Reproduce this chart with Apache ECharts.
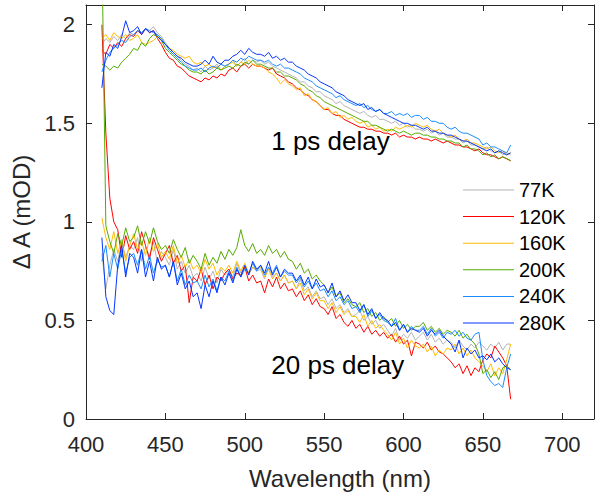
<!DOCTYPE html>
<html>
<head>
<meta charset="utf-8">
<script src="https://cdn.jsdelivr.net/npm/echarts@6/dist/echarts.min.js"></script>
<style>
html,body{margin:0;padding:0;background:#fff;overflow:hidden;}
#chart{width:596px;height:492px;}
</style>
</head>
<body>
<div id="chart"></div>
<script>
// Wavelength grid (nm)
const wl = [
410,412.5,415,417.5,420,422.5,425,427.5,
430,432.5,435,437.5,440,442.5,445,447.5,
450,452.5,455,457.5,460,462.5,465,467.5,
470,472.5,475,477.5,480,482.5,485,487.5,
490,492.5,495,497.5,500,502.5,505,507.5,
510,512.5,515,517.5,520,522.5,525,527.5,
530,532.5,535,537.5,540,542.5,545,547.5,
550,552.5,555,557.5,560,562.5,565,567.5,
570,572.5,575,577.5,580,582.5,585,587.5,
590,592.5,595,597.5,600,602.5,605,607.5,
610,612.5,615,617.5,620,622.5,625,627.5,
630,632.5,635,637.5,640,642.5,645,647.5,
650,652.5,655,657.5,660,662.5,665,667.5
];

const temperatures = ['77K','120K','160K','200K','240K','280K'];
const xRange = [400, 720];
const yRange = [0, 2.1];
const xTickLabels = [400,450,500,550,600,650,700];
const yTickLabels = [0,0.5,1,1.5,2];

// ---- 1 ps delay spectra ----
const ps1_77K = [
1.90,1.93,1.91,1.94,1.92,1.95,1.93,1.96,
1.95,1.97,1.96,1.98,1.97,1.99,1.96,1.94,
1.91,1.88,1.86,1.84,1.82,1.80,1.79,1.77,
1.78,1.76,1.79,1.77,1.78,1.80,1.77,1.79,
1.80,1.82,1.79,1.81,1.83,1.80,1.82,1.81,
1.82,1.80,1.81,1.79,1.78,1.77,1.76,1.75,
1.74,1.73,1.71,1.71,1.69,1.68,1.66,1.66,
1.64,1.63,1.62,1.60,1.61,1.59,1.58,1.57,
1.56,1.55,1.56,1.54,1.53,1.54,1.52,1.52,
1.51,1.50,1.51,1.49,1.50,1.48,1.49,1.47,
1.47,1.46,1.47,1.45,1.46,1.44,1.45,1.43,
1.43,1.42,1.42,1.40,1.41,1.39,1.39,1.38,
1.37,1.38,1.36,1.35,1.36,1.34,1.35,1.34
];
const ps1_120K = [
1.87,1.85,1.90,1.88,1.91,1.89,1.93,1.95,
1.94,1.97,1.95,1.98,1.96,1.97,1.93,1.90,
1.86,1.83,1.82,1.79,1.78,1.76,1.74,1.73,
1.72,1.71,1.73,1.72,1.74,1.73,1.75,1.74,
1.77,1.78,1.76,1.79,1.80,1.78,1.80,1.79,
1.79,1.78,1.77,1.78,1.75,1.74,1.73,1.71,
1.70,1.68,1.67,1.65,1.64,1.62,1.61,1.59,
1.57,1.57,1.55,1.54,1.54,1.52,1.51,1.50,
1.49,1.48,1.48,1.47,1.47,1.46,1.46,1.45,
1.45,1.44,1.45,1.43,1.44,1.43,1.43,1.42,
1.43,1.42,1.42,1.41,1.42,1.41,1.40,1.41,
1.40,1.39,1.39,1.38,1.38,1.37,1.36,1.37,
1.35,1.34,1.34,1.33,1.32,1.33,1.32,1.31
];
const ps1_160K = [
1.93,1.95,1.92,1.96,1.94,1.93,1.95,1.92,
1.93,1.95,1.91,1.90,1.91,1.92,1.94,1.93,
1.90,1.88,1.87,1.85,1.84,1.83,1.84,1.81,
1.80,1.81,1.79,1.80,1.78,1.79,1.77,1.79,
1.80,1.81,1.79,1.81,1.80,1.82,1.80,1.79,
1.79,1.78,1.76,1.75,1.73,1.70,1.72,1.70,
1.69,1.67,1.68,1.64,1.65,1.62,1.61,1.59,
1.57,1.58,1.55,1.56,1.53,1.54,1.52,1.53,
1.51,1.50,1.51,1.48,1.49,1.47,1.48,1.46,
1.47,1.46,1.48,1.47,1.48,1.49,1.48,1.50,
1.49,1.48,1.49,1.47,1.46,1.47,1.45,1.44,
1.43,1.44,1.42,1.41,1.42,1.40,1.40,1.39,
1.38,1.37,1.38,1.36,1.35,1.36,1.34,1.35
];
const ps1_200K = [
1.80,1.79,1.77,1.79,1.78,1.81,1.83,1.85,
1.88,1.87,1.91,1.89,1.93,1.95,1.94,1.92,
1.88,1.86,1.84,1.82,1.80,1.79,1.77,1.76,
1.76,1.75,1.77,1.75,1.76,1.78,1.77,1.78,
1.79,1.78,1.80,1.79,1.81,1.80,1.82,1.80,
1.80,1.79,1.78,1.78,1.76,1.76,1.74,1.74,
1.73,1.72,1.70,1.69,1.67,1.66,1.64,1.63,
1.61,1.60,1.59,1.58,1.57,1.56,1.55,1.54,
1.53,1.52,1.51,1.51,1.49,1.49,1.48,1.47,
1.46,1.47,1.46,1.45,1.46,1.45,1.44,1.45,
1.45,1.44,1.44,1.43,1.43,1.42,1.42,1.41,
1.41,1.40,1.40,1.38,1.39,1.37,1.37,1.36,
1.34,1.35,1.33,1.34,1.32,1.33,1.32,1.31
];
const ps1_240K = [
1.76,1.82,1.86,1.88,1.90,1.92,1.91,1.94,
1.95,1.97,1.96,1.98,1.97,1.96,1.95,1.93,
1.90,1.87,1.85,1.83,1.81,1.79,1.78,1.77,
1.77,1.78,1.76,1.78,1.79,1.78,1.80,1.79,
1.80,1.82,1.81,1.83,1.82,1.84,1.83,1.82,
1.82,1.81,1.82,1.80,1.79,1.80,1.78,1.78,
1.77,1.76,1.75,1.73,1.72,1.71,1.69,1.68,
1.67,1.66,1.65,1.63,1.64,1.62,1.61,1.60,
1.59,1.60,1.58,1.59,1.57,1.56,1.57,1.55,
1.55,1.56,1.54,1.55,1.54,1.55,1.53,1.54,
1.54,1.52,1.53,1.51,1.51,1.50,1.50,1.48,
1.47,1.48,1.46,1.45,1.45,1.44,1.43,1.42,
1.39,1.40,1.38,1.38,1.37,1.36,1.35,1.39
];
const ps1_280K = [
1.68,1.86,1.84,1.90,1.88,1.94,2.02,1.96,
1.97,1.99,1.95,1.98,1.96,1.97,1.94,1.92,
1.90,1.88,1.86,1.84,1.83,1.81,1.80,1.79,
1.79,1.80,1.82,1.80,1.84,1.81,1.80,1.82,
1.82,1.84,1.85,1.87,1.85,1.88,1.86,1.85,
1.85,1.84,1.86,1.83,1.84,1.82,1.83,1.81,
1.81,1.79,1.78,1.77,1.75,1.74,1.73,1.71,
1.70,1.69,1.68,1.66,1.65,1.64,1.62,1.61,
1.60,1.59,1.60,1.57,1.58,1.56,1.57,1.55,
1.54,1.53,1.52,1.51,1.50,1.50,1.49,1.49,
1.48,1.47,1.48,1.46,1.46,1.45,1.45,1.44,
1.44,1.43,1.42,1.41,1.41,1.40,1.39,1.38,
1.37,1.36,1.37,1.35,1.36,1.35,1.34,1.35
];

// ---- 20 ps delay spectra ----
const ps20_77K = [
0.84,0.66,0.78,0.86,0.80,0.90,0.82,0.88,
0.86,0.92,0.80,0.87,0.83,0.90,0.79,0.85,
0.82,0.78,0.86,0.76,0.80,0.74,0.78,0.72,
0.74,0.70,0.77,0.71,0.75,0.69,0.76,0.73,
0.76,0.72,0.79,0.74,0.78,0.73,0.77,0.75,
0.76,0.71,0.77,0.72,0.74,0.70,0.73,0.69,
0.70,0.66,0.71,0.65,0.67,0.62,0.65,0.61,
0.62,0.58,0.61,0.56,0.58,0.54,0.56,0.52,
0.53,0.55,0.50,0.52,0.48,0.50,0.46,0.48,
0.45,0.42,0.46,0.40,0.43,0.41,0.44,0.40,
0.42,0.44,0.40,0.43,0.39,0.41,0.38,0.40,
0.39,0.36,0.40,0.37,0.35,0.38,0.36,0.39,
0.37,0.35,0.38,0.36,0.39,0.35,0.38,0.38
];
const ps20_120K = [
2.00,1.45,1.12,1.00,0.96,0.82,0.93,0.86,
0.90,0.84,0.95,0.88,0.81,0.92,0.86,0.80,
0.84,0.88,0.79,0.83,0.75,0.78,0.59,0.72,
0.70,0.76,0.68,0.73,0.66,0.72,0.70,0.74,
0.76,0.71,0.74,0.73,0.77,0.70,0.73,0.69,
0.70,0.64,0.71,0.67,0.72,0.66,0.69,0.65,
0.66,0.62,0.65,0.60,0.63,0.58,0.61,0.57,
0.56,0.53,0.57,0.51,0.53,0.49,0.47,0.50,
0.46,0.48,0.44,0.47,0.43,0.45,0.42,0.44,
0.41,0.43,0.39,0.42,0.38,0.40,0.32,0.39,
0.38,0.36,0.39,0.35,0.37,0.34,0.33,0.31,
0.29,0.26,0.28,0.23,0.27,0.22,0.26,0.24,
0.30,0.33,0.31,0.37,0.34,0.31,0.27,0.10
];
const ps20_160K = [
1.02,0.92,0.86,0.95,0.84,0.91,0.80,0.88,
0.94,0.86,0.90,0.83,0.92,0.85,0.89,0.82,
0.85,0.81,0.88,0.79,0.83,0.77,0.81,0.76,
0.78,0.74,0.81,0.76,0.79,0.73,0.77,0.75,
0.78,0.74,0.80,0.75,0.79,0.74,0.77,0.76,
0.77,0.72,0.76,0.71,0.74,0.70,0.73,0.69,
0.70,0.66,0.69,0.63,0.66,0.61,0.64,0.60,
0.60,0.56,0.59,0.54,0.57,0.53,0.55,0.52,
0.52,0.49,0.53,0.47,0.50,0.46,0.48,0.45,
0.43,0.40,0.44,0.38,0.41,0.36,0.40,0.37,
0.36,0.38,0.34,0.37,0.32,0.35,0.33,0.36,
0.35,0.38,0.33,0.36,0.32,0.35,0.31,0.29,
0.27,0.24,0.28,0.22,0.26,0.23,0.30,0.38
];
const ps20_200K = [
2.40,0.98,0.90,0.84,0.94,0.88,0.97,0.90,
0.92,0.98,0.88,0.95,0.89,0.97,0.90,0.86,
0.88,0.84,0.91,0.86,0.82,0.87,0.79,0.83,
0.80,0.76,0.84,0.78,0.82,0.79,0.85,0.81,
0.86,0.83,0.87,0.96,0.88,0.85,0.89,0.84,
0.86,0.83,0.88,0.84,0.86,0.82,0.85,0.81,
0.80,0.76,0.79,0.74,0.76,0.71,0.73,0.70,
0.68,0.64,0.67,0.62,0.64,0.59,0.61,0.58,
0.57,0.59,0.54,0.56,0.52,0.54,0.50,0.52,
0.49,0.51,0.47,0.50,0.46,0.48,0.45,0.47,
0.47,0.49,0.45,0.47,0.44,0.46,0.43,0.45,
0.44,0.42,0.45,0.41,0.43,0.40,0.38,0.33,
0.23,0.25,0.21,0.24,0.20,0.26,0.27,0.25
];
const ps20_240K = [
0.80,0.88,0.72,0.84,0.76,0.86,0.74,0.82,
0.84,0.78,0.86,0.76,0.83,0.74,0.81,0.77,
0.78,0.72,0.80,0.70,0.76,0.68,0.73,0.69,
0.70,0.66,0.73,0.67,0.71,0.65,0.72,0.70,
0.75,0.70,0.77,0.72,0.76,0.74,0.79,0.75,
0.78,0.73,0.77,0.74,0.78,0.72,0.75,0.73,
0.73,0.69,0.72,0.67,0.70,0.66,0.69,0.65,
0.66,0.62,0.65,0.60,0.62,0.58,0.60,0.56,
0.57,0.54,0.58,0.52,0.55,0.51,0.53,0.50,
0.49,0.47,0.51,0.45,0.48,0.44,0.47,0.45,
0.45,0.47,0.43,0.46,0.42,0.44,0.41,0.44,
0.43,0.45,0.42,0.44,0.41,0.40,0.43,0.44,
0.30,0.22,0.19,0.17,0.18,0.16,0.26,0.33
];
const ps20_280K = [
0.92,0.62,0.55,0.53,0.78,0.88,0.72,0.84,
0.82,0.74,0.86,0.72,0.80,0.70,0.82,0.76,
0.78,0.72,0.80,0.68,0.74,0.66,0.70,0.62,
0.64,0.56,0.68,0.62,0.70,0.64,0.72,0.68,
0.74,0.69,0.76,0.72,0.78,0.73,0.80,0.76,
0.78,0.74,0.80,0.73,0.77,0.72,0.76,0.74,
0.74,0.70,0.73,0.68,0.72,0.66,0.71,0.67,
0.68,0.64,0.69,0.62,0.65,0.60,0.63,0.59,
0.59,0.55,0.58,0.53,0.56,0.51,0.54,0.51,
0.50,0.47,0.49,0.45,0.48,0.44,0.46,0.45,
0.44,0.46,0.42,0.45,0.43,0.45,0.42,0.40,
0.38,0.34,0.40,0.31,0.36,0.33,0.35,0.31,
0.32,0.30,0.33,0.29,0.31,0.28,0.26,0.25
];

const ps1Sets = [ps1_77K, ps1_120K, ps1_160K, ps1_200K, ps1_240K, ps1_280K];
const ps20Sets = [ps20_77K, ps20_120K, ps20_160K, ps20_200K, ps20_240K, ps20_280K];
const colors = ['#b3b3b3', '#ff0000', '#ffbb00', '#55aa00', '#1a8cff', '#0535ff'];

const FONT = "'Liberation Sans', Arial, Helvetica, sans-serif";
const AX = '#262626';
const GRID = { left: 86, right: 2, top: 5, bottom: 73, width: 596, height: 492 };

function pairs(ys) { return wl.map((x, i) => [x, ys[i]]); }

const series = [];
temperatures.forEach((t, i) => {
  [ps1Sets[i], ps20Sets[i]].forEach(ys => {
    series.push({
      name: t, type: 'line', data: pairs(ys),
      showSymbol: false, symbol: 'none',
      lineStyle: { color: colors[i], width: 1 },
      itemStyle: { color: colors[i] },
      clip: true, silent: true
    });
  });
});

// pixel position of a data point inside the grid (for the two text annotations)
function toPx(x, y) {
  const w = GRID.width - GRID.left - GRID.right;
  const h = GRID.height - GRID.top - GRID.bottom;
  return [GRID.left + (x - xRange[0]) / (xRange[1] - xRange[0]) * w,
          GRID.top + (yRange[1] - y) / (yRange[1] - yRange[0]) * h];
}
const p1 = toPx(554, 1.41);
const p2 = toPx(558.6, 0.275);

function xFmt(v) { return xTickLabels.indexOf(v) >= 0 ? String(v) : ''; }
function yFmt(v) { return yTickLabels.indexOf(v) >= 0 ? String(v) : ''; }

function sideAxis(extra) {
  return Object.assign({
    axisLine: { show: true, onZero: false, lineStyle: { color: AX, width: 1 } },
    axisTick: { show: true, inside: true, length: 6, lineStyle: { color: AX, width: 1 } },
    splitLine: { show: false }
  }, extra);
}

const chart = echarts.init(document.getElementById('chart'), null, { renderer: 'svg', width: 596, height: 492 });

chart.setOption({
  animation: false,
  backgroundColor: '#fff',
  grid: { left: GRID.left, right: GRID.right, top: GRID.top, bottom: GRID.bottom, outerBoundsMode: 'none' },
  xAxis: [
    sideAxis({
      type: 'value', min: xRange[0], max: xRange[1], interval: 50, position: 'bottom',
      name: 'Wavelength (nm)', nameLocation: 'middle', nameGap: 47,
      nameTextStyle: { fontFamily: FONT, fontSize: 24, color: AX },
      axisLabel: { show: true, fontFamily: FONT, fontSize: 22, color: AX, margin: 14, formatter: xFmt }
    }),
    sideAxis({ type: 'value', min: xRange[0], max: xRange[1], interval: 50, position: 'top', axisLabel: { show: false } })
  ],
  yAxis: [
    sideAxis({
      type: 'value', min: yRange[0], max: yRange[1], interval: 0.5, position: 'left',
      name: 'Δ A (mOD)', nameLocation: 'middle', nameGap: 34,
      nameTextStyle: { fontFamily: FONT, fontSize: 24, color: AX },
      axisLabel: { show: true, fontFamily: FONT, fontSize: 22, color: AX, margin: 11, formatter: yFmt }
    }),
    sideAxis({ type: 'value', min: yRange[0], max: yRange[1], interval: 0.5, position: 'right', axisLabel: { show: false } })
  ],
  legend: {
    data: temperatures,
    orient: 'vertical',
    left: 463, top: 180, padding: 0,
    icon: 'rect',
    itemWidth: 51, itemHeight: 1, itemGap: 6.6,
    textStyle: { fontFamily: FONT, fontSize: 20, lineHeight: 20, color: '#000' },
    selectedMode: false
  },
  graphic: [
    { type: 'text', x: p1[0], y: p1[1], silent: true, style: { text: '1 ps delay', fontFamily: FONT, fontSize: 26, fill: '#000', align: 'center', verticalAlign: 'middle' } },
    { type: 'text', x: p2[0], y: p2[1], silent: true, style: { text: '20 ps delay', fontFamily: FONT, fontSize: 26, fill: '#000', align: 'center', verticalAlign: 'middle' } }
  ],
  series: series
});
</script>
</body>
</html>
